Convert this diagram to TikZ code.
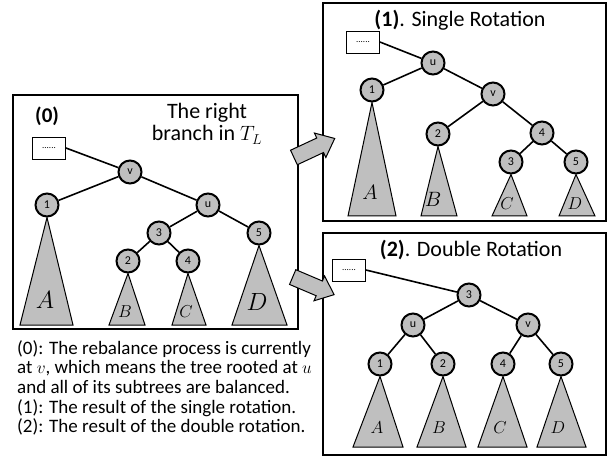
\documentclass[tikz,border=0pt]{standalone}
\usepackage{fontspec}
\setmainfont{Carlito}
\usetikzlibrary{shapes.arrows}
\pgfdeclarelayer{bg}
\pgfsetlayers{bg,main}
\definecolor{fillgray}{RGB}{191,191,191}
\begin{document}
\begin{tikzpicture}[x=1pt,y=-1pt,
  tn/.style={circle,draw=black,line width=2pt,fill=fillgray,minimum size=23pt,inner sep=0pt,font=\fontsize{12}{12}\selectfont},
  edge/.style={line width=1.6pt},
  tri/.style={draw=black,line width=1pt,fill=fillgray,line join=miter},
  panel/.style={draw=black,line width=1.5pt},
  dotbox/.style={draw=black,line width=0.8pt,fill=white,minimum width=33pt,minimum height=22pt,inner sep=0pt,font=\fontsize{9}{9}\selectfont},
  bigarrow/.style={single arrow,draw=black,line width=1pt,fill=fillgray,minimum height=45pt,inner xsep=0pt,inner ysep=7.5pt,text height=0pt,text depth=0pt,single arrow head extend=5.5pt,single arrow tip angle=80,single arrow head indent=0pt},
  lab/.style={inner sep=0pt},
]
\useasboundingbox (0,0) rectangle (608,457);

% ---------- panels ----------
\draw[panel] (13,95) rectangle (298,329);
\draw[panel] (323,3) rectangle (606,221);
\draw[panel] (323,233) rectangle (606,455);

% ---------- panel (0) ----------
\node[font=\fontsize{21}{21}\selectfont\bfseries, anchor=base west, inner sep=0pt] (t0) at (35,123) {(0)};
\node[font=\fontsize{22}{22.5}\selectfont, align=center, anchor=north, inner sep=0pt] (t0b) at (207,103) {The right\\branch in $T_L$};
\node[dotbox] (a-d) at (49,148) {......};
\node[tn] (a-v) at (130,172) {v};
\node[tn] (a-1) at (47,205) {1};
\node[tn] (a-u) at (208,205) {u};
\node[tn] (a-3) at (159,233) {3};
\node[tn] (a-5) at (259,233) {5};
\node[tn] (a-2) at (128,261) {2};
\node[tn] (a-4) at (188,261) {4};
\draw[edge] (a-d.east) -- (a-v);
\draw[edge] (a-v) -- (a-1);
\draw[edge] (a-v) -- (a-u);
\draw[edge] (a-u) -- (a-3);
\draw[edge] (a-u) -- (a-5);
\draw[edge] (a-3) -- (a-2);
\draw[edge] (a-3) -- (a-4);
\begin{pgfonlayer}{bg}
\draw[tri] (a-1.south) -- (20,325) -- (73,325) -- cycle;
\draw[tri] (a-2.south) -- (109,325) -- (145,325) -- cycle;
\draw[tri] (a-4.south) -- (172,325) -- (206,325) -- cycle;
\draw[tri] (a-5.south) -- (232,325) -- (287,325) -- cycle;
\end{pgfonlayer}
\node[lab,font=\fontsize{23}{23}\selectfont] (a-A) at (45,300) {$A$};
\node[lab,font=\fontsize{17}{17}\selectfont] (a-B) at (125,312) {$B$};
\node[lab,font=\fontsize{17}{17}\selectfont] (a-C) at (186,312) {$C$};
\node[lab,font=\fontsize{23}{23}\selectfont] (a-D) at (257,302) {$D$};

% ---------- panel (1) ----------
\node[font=\fontsize{22}{22}\selectfont, anchor=base, inner sep=0pt] (t1) at (460,27) {\textbf{(1)}. Single Rotation};
\node[dotbox] (b-d) at (363,42) {......};
\node[tn] (b-u) at (433,63) {u};
\node[tn] (b-1) at (372,90) {1};
\node[tn] (b-v) at (493,94) {v};
\node[tn] (b-2) at (438,134) {2};
\node[tn] (b-4) at (542,133) {4};
\node[tn] (b-3) at (511,162) {3};
\node[tn] (b-5) at (576,162) {5};
\draw[edge] (b-d.east) -- (b-u);
\draw[edge] (b-u) -- (b-1);
\draw[edge] (b-u) -- (b-v);
\draw[edge] (b-v) -- (b-2);
\draw[edge] (b-v) -- (b-4);
\draw[edge] (b-4) -- (b-3);
\draw[edge] (b-4) -- (b-5);
\begin{pgfonlayer}{bg}
\draw[tri] (b-1.south) -- (348,216) -- (396,216) -- cycle;
\draw[tri] (b-2.south) -- (421,216) -- (457,216) -- cycle;
\draw[tri] (b-3.south) -- (492,216) -- (527,216) -- cycle;
\draw[tri] (b-5.south) -- (559,216) -- (595,216) -- cycle;
\end{pgfonlayer}
\node[lab,font=\fontsize{22}{22}\selectfont] (b-A) at (370,192) {$A$};
\node[lab,font=\fontsize{20}{20}\selectfont] (b-B) at (433,199) {$B$};
\node[lab,font=\fontsize{19}{19}\selectfont] (b-C) at (507,204) {$C$};
\node[lab,font=\fontsize{19}{19}\selectfont] (b-D) at (575,204) {$D$};

% ---------- panel (2) ----------
\node[font=\fontsize{22}{22}\selectfont, anchor=base, inner sep=0pt] (t2) at (471,257) {\textbf{(2)}. Double Rotation};
\node[dotbox] (c-d) at (349,270) {......};
\node[tn] (c-3) at (469,295) {3};
\node[tn] (c-u) at (413,325) {u};
\node[tn] (c-v) at (528,325) {v};
\node[tn] (c-1) at (380,364) {1};
\node[tn] (c-2) at (443,364) {2};
\node[tn] (c-4) at (503,364) {4};
\node[tn] (c-5) at (561,364) {5};
\draw[edge] (c-d.east) -- (c-3);
\draw[edge] (c-3) -- (c-u);
\draw[edge] (c-3) -- (c-v);
\draw[edge] (c-u) -- (c-1);
\draw[edge] (c-u) -- (c-2);
\draw[edge] (c-v) -- (c-4);
\draw[edge] (c-v) -- (c-5);
\begin{pgfonlayer}{bg}
\draw[tri] (c-1.south) -- (353,447) -- (403,447) -- cycle;
\draw[tri] (c-2.south) -- (417,447) -- (466,447) -- cycle;
\draw[tri] (c-4.south) -- (478,447) -- (527,447) -- cycle;
\draw[tri] (c-5.south) -- (537,447) -- (586,447) -- cycle;
\end{pgfonlayer}
\node[lab,font=\fontsize{18}{18}\selectfont] (c-A) at (377,428) {$A$};
\node[lab,font=\fontsize{18}{18}\selectfont] (c-B) at (439,428) {$B$};
\node[lab,font=\fontsize{18}{18}\selectfont] (c-C) at (500,428) {$C$};
\node[lab,font=\fontsize{18}{18}\selectfont] (c-D) at (558,428) {$D$};

% ---------- arrows ----------
\node[bigarrow, rotate=25] (ar1) at (310,150) {};
\node[bigarrow, rotate=-23] (ar2) at (309,284) {};

% ---------- note ----------
\node[font=\fontsize{19}{19.7}\selectfont, align=left, anchor=north west, inner sep=0pt] (note) at (17,340)
 {(0): The rebalance process is currently\\
  at $v$, which means the tree rooted at $u$\\
  and all of its subtrees are balanced.\\
  (1): The result of the single rotation.\\
  (2): The result of the double rotation.};
\end{tikzpicture}
\end{document}
